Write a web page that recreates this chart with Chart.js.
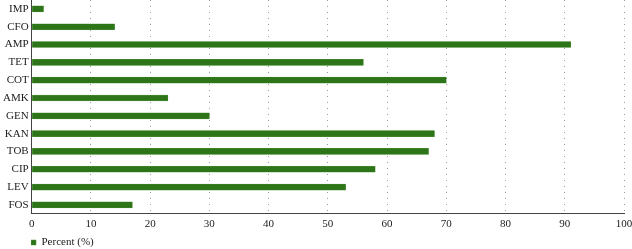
<!DOCTYPE html>
<html>
<head>
<meta charset="utf-8">
<script src="https://cdn.jsdelivr.net/npm/chart.js@4/dist/chart.umd.min.js"></script>
<style>
html,body{margin:0;padding:0;background:#fff;}
#wrap{width:632px;height:249px;position:relative;}
</style>
</head>
<body>
<div id="wrap"><canvas id="c"></canvas></div>
<script>
const categories = ["IMP","CFO","AMP","TET","COT","AMK","GEN","KAN","TOB","CIP","LEV","FOS"];
const percentValues = [2,14,91,56,70,23,30,68,67,58,53,17];
const seriesName = "Percent (%)";
const xTicks = [0,10,20,30,40,50,60,70,80,90,100];

const legendShift = {
  id: 'legendShift',
  afterLayout(chart) {
    const lg = chart.legend;
    if (lg) { lg.left += 31; lg.right += 31; lg.top += 2; lg.bottom += 2; }
  }
};

new Chart(document.getElementById('c'), {
  type: 'bar',
  data: {
    labels: categories,
    datasets: [{
      label: seriesName,
      data: percentValues,
      backgroundColor: '#2d7518',
      borderColor: '#4e9236',
      borderWidth: 0.5,
      barThickness: 6
    }]
  },
  options: {
    indexAxis: 'y',
    responsive: true,
    maintainAspectRatio: false,
    animation: false,
    layout: { padding: 0 },
    font: { family: 'Liberation Serif' },
    scales: {
      x: {
        min: 0, max: 100,
        afterBuildTicks: (axis) => { axis.ticks = xTicks.map(v => ({ value: v })); },
        afterFit: (s) => { s.paddingRight = 8; s.paddingLeft = 0; },
        grid: { color: '#9a9a9a', lineWidth: 1, drawTicks: false },
        border: { display: true, color: '#444', width: 1, dash: [1,5] },
        ticks: { color: '#222', font: { family: 'Liberation Serif', size: 11 }, padding: 4 }
      },
      y: {
        afterFit: (s) => { s.paddingTop = 0; s.paddingBottom = 0; },
        grid: { display: false, drawTicks: false },
        border: { display: true, color: '#444', width: 1 },
        ticks: { color: '#222', autoSkip: false, font: { family: 'Liberation Serif', size: 11 }, padding: 3 }
      }
    },
    plugins: {
      legend: {
        position: 'bottom',
        align: 'start',
        maxHeight: 14,
        labels: {
          boxWidth: 5, boxHeight: 5, padding: 0,
          color: '#222',
          font: { family: 'Liberation Serif', size: 11 }
        }
      },
      tooltip: { enabled: false }
    }
  },
  plugins: [legendShift]
});
</script>
</body>
</html>
